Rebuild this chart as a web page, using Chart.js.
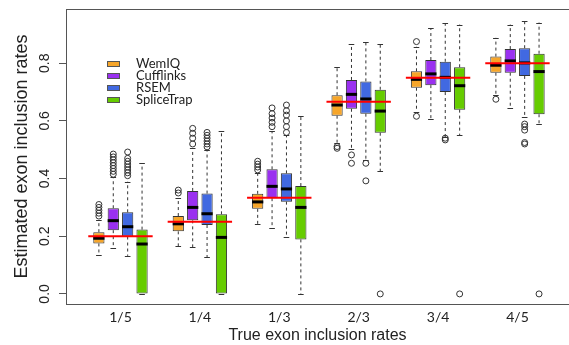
<!DOCTYPE html>
<html>
<head>
<meta charset="utf-8">
<script src="https://cdn.jsdelivr.net/npm/chart.js@4.4.0/dist/chart.umd.min.js"></script>
<style>
  html, body { margin: 0; padding: 0; background: #fff; }
  #wrap { width: 569px; height: 345px; }
</style>
</head>
<body>
<div id="wrap"><canvas id="boxChart"></canvas></div>
<script>
const categories = ['1/5', '1/4', '1/3', '2/3', '3/4', '4/5'];
const trueRates = [1/5, 1/4, 1/3, 2/3, 3/4, 4/5];
const yTicks = [0, 0.2, 0.4, 0.6, 0.8];
const methods = ['WemIQ', 'Cufflinks', 'RSEM', 'SpliceTrap'];
const colors = ['#F7A62A', '#9A30F0', '#4169E1', '#66CC00'];

// WemIQ
const wemiqLo  = [0.135, 0.165, 0.241, 0.522, 0.632, 0.690];
const wemiqQ1  = [0.175, 0.217, 0.295, 0.618, 0.715, 0.767];
const wemiqMed = [0.193, 0.243, 0.319, 0.655, 0.744, 0.793];
const wemiqQ3  = [0.214, 0.270, 0.347, 0.689, 0.772, 0.823];
const wemiqHi  = [0.256, 0.332, 0.418, 0.786, 0.857, 0.888];
const wemiqOut = [[0.27, 0.28, 0.29, 0.30, 0.31], [0.35, 0.36], [0.43, 0.44, 0.45, 0.46], [0.511, 0.505], [0.875, 0.616], [0.675]];

// Cufflinks
const cuffLo  = [0.158, 0.161, 0.228, 0.503, 0.605, 0.644];
const cuffQ1  = [0.221, 0.255, 0.332, 0.642, 0.724, 0.767];
const cuffMed = [0.254, 0.300, 0.373, 0.692, 0.763, 0.808];
const cuffQ3  = [0.297, 0.357, 0.432, 0.742, 0.811, 0.849];
const cuffHi  = [0.405, 0.505, 0.565, 0.865, 0.921, 0.934];
const cuffOut = [[0.415, 0.425, 0.435, 0.445, 0.455, 0.465, 0.475, 0.485], [0.520, 0.540, 0.557, 0.574], [0.58, 0.595, 0.61, 0.625, 0.645], [0.482, 0.453], [], []];

// RSEM
const rsemLo  = [0.132, 0.127, 0.199, 0.464, 0.545, 0.612];
const rsemQ1  = [0.199, 0.239, 0.320, 0.625, 0.700, 0.756];
const rsemMed = [0.233, 0.278, 0.364, 0.676, 0.751, 0.801];
const rsemQ3  = [0.283, 0.348, 0.418, 0.737, 0.805, 0.852];
const rsemHi  = [0.389, 0.500, 0.550, 0.875, 0.938, 0.947];
const rsemOut = [[0.41, 0.42, 0.43, 0.44, 0.45, 0.46, 0.47, 0.492], [0.51, 0.52, 0.53, 0.54, 0.55, 0.56], [0.56, 0.58, 0.60, 0.62, 0.635, 0.655], [0.453, 0.392], [0.540, 0.534], [0.589, 0.580, 0.568, 0.525, 0.520]];

// SpliceTrap
const spliceLo  = [0, 0, 0, 0.426, 0.551, 0.588];
const spliceQ1  = [0, 0, 0.189, 0.559, 0.639, 0.623];
const spliceMed = [0.173, 0.196, 0.300, 0.634, 0.722, 0.771];
const spliceQ3  = [0.223, 0.276, 0.374, 0.708, 0.786, 0.833];
const spliceHi  = [0.453, 0.566, 0.617, 0.865, 0.934, 0.941];
const spliceOut = [[], [], [], [0], [0], [0]];

const stats = [
    { lo: wemiqLo, q1: wemiqQ1, med: wemiqMed, q3: wemiqQ3, hi: wemiqHi, out: wemiqOut },
    { lo: cuffLo, q1: cuffQ1, med: cuffMed, q3: cuffQ3, hi: cuffHi, out: cuffOut },
    { lo: rsemLo, q1: rsemQ1, med: rsemMed, q3: rsemQ3, hi: rsemHi, out: rsemOut },
    { lo: spliceLo, q1: spliceQ1, med: spliceMed, q3: spliceQ3, hi: spliceHi, out: spliceOut }
];

// whiskers, medians, outliers, true-rate lines, frame and legend
const boxParts = {
    id: 'boxParts',
    afterDatasetsDraw(chart) {
        const ctx = chart.ctx;
        const y = chart.scales.y;
        ctx.save();
        stats.forEach((s, di) => {
            const meta = chart.getDatasetMeta(di);
            meta.data.forEach((bar, i) => {
                const x = bar.x, w = bar.width;
                ctx.strokeStyle = '#333';
                ctx.lineWidth = 1;
                // dashed whiskers
                ctx.setLineDash([3, 3]);
                ctx.beginPath();
                ctx.moveTo(x, y.getPixelForValue(s.q3[i]));
                ctx.lineTo(x, y.getPixelForValue(s.hi[i]));
                ctx.moveTo(x, y.getPixelForValue(s.q1[i]));
                ctx.lineTo(x, y.getPixelForValue(s.lo[i]));
                ctx.stroke();
                ctx.setLineDash([]);
                // caps
                ctx.beginPath();
                [s.hi[i], s.lo[i]].forEach(v => {
                    const py = Math.round(y.getPixelForValue(v)) + 0.5;
                    ctx.moveTo(x - w / 4, py);
                    ctx.lineTo(x + w / 4, py);
                });
                ctx.stroke();
                // outliers
                s.out[i].forEach(v => {
                    ctx.beginPath();
                    ctx.arc(x, y.getPixelForValue(v), 3, 0, Math.PI * 2);
                    ctx.stroke();
                });
                // median
                ctx.strokeStyle = '#000';
                ctx.lineWidth = 3;
                ctx.beginPath();
                const my = y.getPixelForValue(s.med[i]);
                ctx.moveTo(x - w / 2, my);
                ctx.lineTo(x + w / 2, my);
                ctx.stroke();
            });
        });
        // true inclusion rate
        const first = chart.getDatasetMeta(0).data;
        const last = chart.getDatasetMeta(stats.length - 1).data;
        ctx.strokeStyle = '#FF0000';
        ctx.lineWidth = 2;
        trueRates.forEach((r, i) => {
            const py = y.getPixelForValue(r);
            ctx.beginPath();
            ctx.moveTo(first[i].x - first[i].width / 2 - 5, py);
            ctx.lineTo(last[i].x + last[i].width / 2 + 5, py);
            ctx.stroke();
        });
        // frame
        const a = chart.chartArea;
        ctx.strokeStyle = '#555';
        ctx.lineWidth = 1;
        ctx.strokeRect(a.left + 0.5, a.top + 0.5, a.right - a.left, a.bottom - a.top);
        // legend
        ctx.font = '13px Lato';
        ctx.textBaseline = 'middle';
        ctx.textAlign = 'left';
        methods.forEach((m, k) => {
            const ly = 64 + k * 12;
            ctx.fillStyle = colors[k];
            ctx.fillRect(107, ly - 3, 13, 6);
            ctx.strokeStyle = '#555';
            ctx.strokeRect(107.5, ly - 2.5, 12, 5);
            ctx.fillStyle = '#222';
            ctx.fillText(m, 136, ly);
        });
        ctx.restore();
    }
};

const ctx = document.getElementById('boxChart').getContext('2d');
const boxChart = new Chart(ctx, {
    type: 'bar',
    data: {
        datasets: methods.map((m, k) => ({
            label: m,
            data: categories.map((c, i) => ({ x: i, y: [stats[k].q1[i], stats[k].q3[i]] })),
            backgroundColor: colors[k],
            borderColor: '#333',
            borderWidth: 1,
            borderSkipped: false,
            categoryPercentage: 0.725,
            barPercentage: 0.78
        }))
    },
    options: {
        responsive: true,
        maintainAspectRatio: false,
        animation: false,
        layout: { padding: { top: 9, right: 0, left: 0, bottom: 0 } },
        plugins: {
            legend: { display: false },
            tooltip: { enabled: false }
        },
        scales: {
            x: {
                type: 'linear',
                offset: false,
                min: -0.686,
                max: 5.649,
                afterBuildTicks: function(scale) {
                    scale.ticks = categories.map((c, i) => ({ value: i }));
                },
                afterFit: function(scale) {
                    scale.height = 41;
                    scale.paddingLeft = 0;
                    scale.paddingRight = 0;
                },
                grid: { display: false, drawTicks: false },
                border: { display: false },
                ticks: {
                    autoSkip: false,
                    maxRotation: 0,
                    padding: 5,
                    color: '#222',
                    font: { family: 'Lato', size: 14 },
                    callback: function(v) { return categories[v]; }
                },
                title: {
                    display: true,
                    text: 'True exon inclusion rates',
                    color: '#222',
                    font: { family: 'Liberation Sans', size: 16 },
                    padding: { top: 0, bottom: 0 }
                }
            },
            y: {
                min: -0.035,
                max: 0.988,
                afterBuildTicks: function(scale) {
                    scale.ticks = yTicks.map(v => ({ value: v }));
                },
                afterFit: function(scale) {
                    scale.width = 66;
                    scale.paddingTop = 0;
                    scale.paddingBottom = 0;
                },
                grid: { drawOnChartArea: false, drawTicks: true, tickLength: 7, color: '#555' },
                border: { display: false },
                ticks: {
                    minRotation: 90,
                    maxRotation: 90,
                    crossAlign: 'center',
                    padding: 4,
                    color: '#222',
                    font: { family: 'Liberation Sans', size: 14 },
                    callback: function(v) { return v.toFixed(1); }
                },
                title: {
                    display: true,
                    text: 'Estimated exon inclusion rates',
                    color: '#222',
                    font: { family: 'Liberation Sans', size: 18 },
                    padding: { top: 11, bottom: 0 }
                }
            }
        }
    },
    plugins: [boxParts]
});
</script>
</body>
</html>
